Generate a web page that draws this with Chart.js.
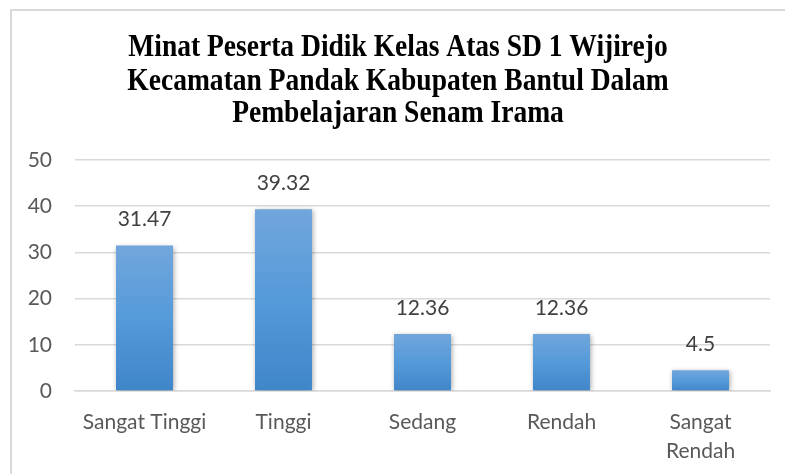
<!DOCTYPE html>
<html>
<head>
<meta charset="utf-8">
<script src="https://cdn.jsdelivr.net/npm/chart.js@4.4.1/dist/chart.umd.min.js"></script>
<style>
  html, body { margin: 0; padding: 0; background: #fff; }
  #wrap { position: relative; width: 785px; height: 474px; overflow: hidden; }
  #frame { position: absolute; left: 10px; top: 9px; width: 800px; height: 500px;
           border: 2px solid #d9d9d9; box-sizing: border-box; }
  canvas { position: absolute; left: 0; top: 0; }
</style>
</head>
<body>
<div id="wrap">
  <div id="frame"></div>
  <canvas id="chart" width="785" height="474"></canvas>
</div>
<script>
const titleLines = [
  'Minat Peserta Didik Kelas Atas SD 1 Wijirejo',
  'Kecamatan Pandak Kabupaten Bantul Dalam',
  'Pembelajaran Senam Irama'
];
const categories = ['Sangat Tinggi', 'Tinggi', 'Sedang', 'Rendah', ['Sangat', 'Rendah']];
const values = [31.47, 39.32, 12.36, 12.36, 4.5];
const yTicks = { min: 0, max: 50, step: 10 };

const labelFont = "'Lato', 'Open Sans', sans-serif";

// title drawn condensed, like the original
const titlePlugin = {
  id: 'condensedTitle',
  afterDraw(chart) {
    const ctx = chart.ctx;
    ctx.save();
    ctx.font = "bold 32px 'Liberation Serif', 'Times New Roman', serif";
    ctx.fillStyle = '#000';
    ctx.textAlign = 'center';
    ctx.textBaseline = 'middle';
    const ys = [48, 82, 114];
    titleLines.forEach((line, i) => {
      ctx.save();
      ctx.translate(398, ys[i]);
      ctx.scale(0.86, 1);
      ctx.fillText(line, 0, 0);
      ctx.restore();
    });
    ctx.restore();
  }
};

// soft shadow on bars
const barShadow = {
  id: 'barShadow',
  beforeDatasetsDraw(chart) {
    const ctx = chart.ctx;
    ctx.save();
    ctx.shadowColor = 'rgba(0,0,0,0.35)';
    ctx.shadowBlur = 5;
    ctx.shadowOffsetX = 1;
    ctx.shadowOffsetY = 1;
  },
  afterDatasetsDraw(chart) {
    chart.ctx.restore();
  }
};

// values above bars
const valueLabels = {
  id: 'valueLabels',
  afterDraw(chart) {
    const ctx = chart.ctx;
    const meta = chart.getDatasetMeta(0);
    ctx.save();
    ctx.font = '21px ' + labelFont;
    ctx.fillStyle = '#404040';
    ctx.textAlign = 'center';
    ctx.textBaseline = 'middle';
    meta.data.forEach((bar, i) => {
      ctx.fillText(String(values[i]), bar.x, bar.y - 26);
    });
    ctx.restore();
  }
};

function barGradient(context) {
  const chart = context.chart;
  if (!chart.chartArea || context.raw === undefined) return '#5b9bd5';
  const y = chart.scales.y;
  const top = y.getPixelForValue(context.raw);
  const bottom = y.getPixelForValue(0);
  if (!isFinite(top) || !isFinite(bottom) || top === bottom) return '#5b9bd5';
  const g = chart.ctx.createLinearGradient(0, top, 0, bottom);
  g.addColorStop(0, '#71a6dc');
  g.addColorStop(0.5, '#559ad9');
  g.addColorStop(1, '#3f86c9');
  return g;
}

new Chart(document.getElementById('chart'), {
  type: 'bar',
  data: {
    labels: categories,
    datasets: [{
      data: values,
      backgroundColor: barGradient,
      borderWidth: 0,
      categoryPercentage: 1,
      barPercentage: 0.41
    }]
  },
  options: {
    responsive: false,
    animation: false,
    events: [],
    layout: { padding: { top: 160, right: 15, bottom: 0, left: 0 } },
    plugins: {
      legend: { display: false },
      title: { display: false },
      tooltip: { enabled: false }
    },
    scales: {
      y: {
        min: yTicks.min,
        max: yTicks.max,
        ticks: { stepSize: yTicks.step, padding: 23, color: '#595959',
                 font: { family: labelFont, size: 21 } },
        grid: { color: '#d9d9d9', lineWidth: 1.5, drawTicks: false },
        border: { display: false },
        afterFit(scale) { scale.width = 75; }
      },
      x: {
        ticks: { padding: 17, color: '#595959', maxRotation: 0, autoSkip: false,
                 font: { family: labelFont, size: 21, lineHeight: 1.38 } },
        grid: { display: false, drawTicks: false },
        border: { display: true, color: '#d9d9d9', width: 1.5 },
        afterFit(scale) { scale.height = 83; }
      }
    }
  },
  plugins: [barShadow, valueLabels, titlePlugin]
});
</script>
</body>
</html>
